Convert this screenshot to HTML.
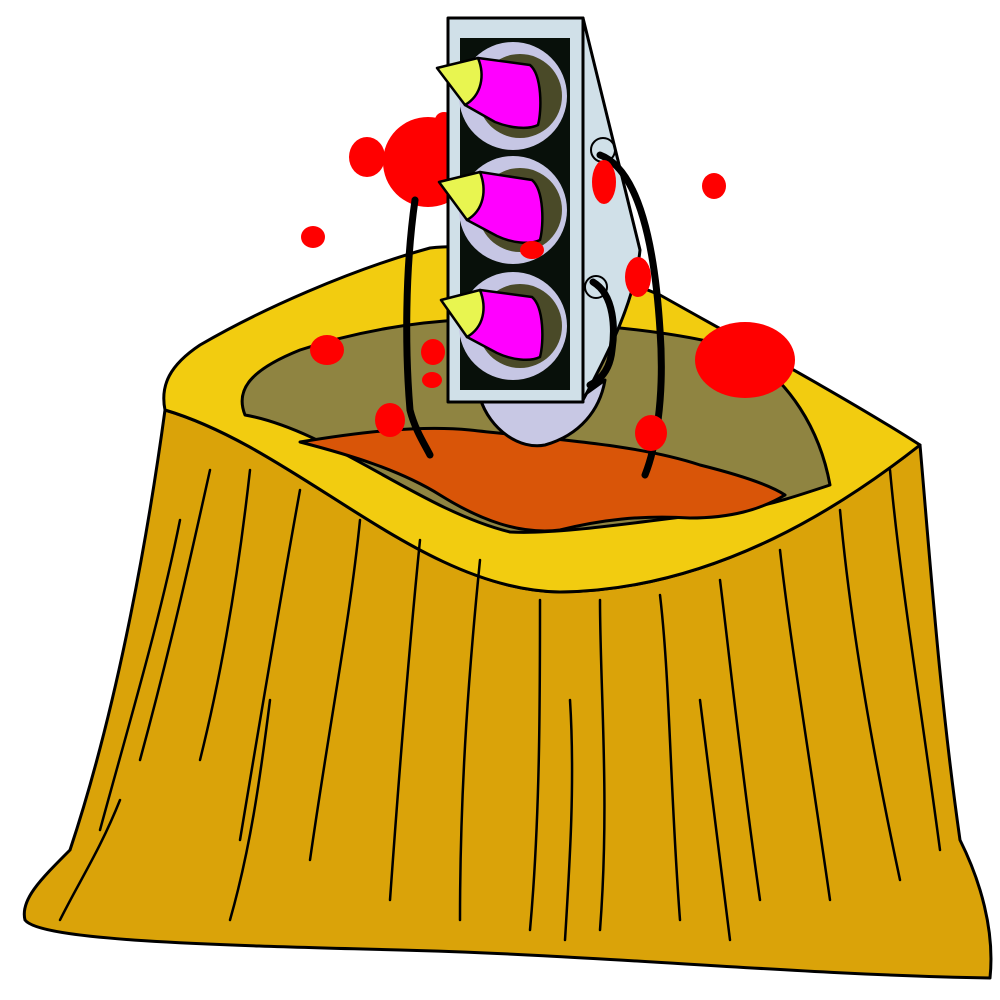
<!DOCTYPE html>
<html><head><meta charset="utf-8"><style>html,body{margin:0;padding:0;background:#fff}svg{display:block}</style></head>
<body>
<svg width="1000" height="1000" viewBox="0 0 1000 1000" xmlns="http://www.w3.org/2000/svg" stroke-linejoin="round">
<g stroke="#000" stroke-width="3">
<path fill="#DAA309" d="M165,410 C150,520 120,700 70,850 C40,880 20,900 25,920 C40,940 200,945 400,950 C600,955 800,975 990,978 C995,930 980,880 960,840 C940,700 930,560 920,445 C850,500 720,590 560,592 C420,590 300,450 165,410 Z"/>
<path fill="#F2CC10" d="M165,410 C160,385 170,365 200,345 C260,310 350,270 430,248 C500,240 600,270 660,295 C740,340 850,400 920,445 C850,500 720,590 560,592 C420,590 300,450 165,410 Z"/>
<path fill="#8F8441" d="M245,415 C235,390 250,370 300,350 C360,330 420,322 460,320 C560,320 680,330 740,350 C790,380 820,430 830,485 C800,495 770,505 740,510 C650,520 560,535 510,532 C420,510 330,430 245,415 Z"/>
<path fill="#D95508" d="M300,442 C360,432 420,425 470,430 C560,440 640,445 700,465 C740,475 770,485 785,495 C760,510 730,518 690,518 C640,515 600,520 560,530 C520,535 480,520 440,495 C400,470 350,455 300,442 Z"/>
</g>
<g stroke="#000" stroke-width="2.5" fill="none" stroke-linecap="round">
<path d="M210,470 C190,560 170,650 140,760"/><path d="M250,470 C240,560 225,660 200,760"/><path d="M300,490 C280,600 260,720 240,840"/><path d="M360,520 C350,620 330,720 310,860"/><path d="M420,540 C410,640 400,760 390,900"/><path d="M480,560 C470,660 460,780 460,920"/><path d="M540,600 C540,700 540,820 530,930"/><path d="M600,600 C600,690 610,800 600,930"/><path d="M660,595 C670,680 670,790 680,920"/><path d="M720,580 C730,660 740,760 760,900"/><path d="M780,550 C790,640 810,760 830,900"/><path d="M840,510 C850,620 870,740 900,880"/><path d="M890,470 C900,580 920,700 940,850"/><path d="M180,520 C160,620 130,720 100,830"/><path d="M120,800 C100,850 80,880 60,920"/><path d="M270,700 C260,780 250,850 230,920"/><path d="M700,700 C710,780 720,860 730,940"/><path d="M570,700 C575,780 570,860 565,940"/>
</g>
<g fill="#FF0000">
<ellipse cx="428" cy="162" rx="45" ry="45"/><ellipse cx="444" cy="120" rx="9" ry="8"/>
</g>
<g stroke="#000" stroke-width="3">
<path fill="#C8C8E4" d="M480,398 C490,430 520,450 545,445 C580,435 600,410 605,380 L580,398 Z"/>
<path fill="#D0E0E8" d="M583,18 L640,250 C635,300 610,350 583,400 Z"/>
<rect x="448" y="18" width="135" height="384" fill="#D0E0E8"/>
<rect x="460" y="38" width="110" height="352" fill="#08100A" stroke="none"/>
<g stroke="none">
<circle cx="513" cy="96" r="54" fill="#C6C6E4"/><circle cx="520" cy="96" r="42" fill="#4A4A28"/>
<circle cx="513" cy="210" r="54" fill="#C6C6E4"/><circle cx="520" cy="210" r="42" fill="#4A4A28"/>
<circle cx="513" cy="326" r="54" fill="#C6C6E4"/><circle cx="520" cy="326" r="42" fill="#4A4A28"/>
</g>
<g stroke-width="2.5">
<path fill="#FF00FF" d="M478,58 L530,65 C542,75 542,110 538,125 C528,130 510,128 495,122 L465,105 Z"/>
<path fill="#E8F550" d="M437,68 L478,58 C485,75 482,95 465,105 Z"/>
<path fill="#FF00FF" d="M480,172 L532,180 C544,190 544,225 540,240 C530,245 512,243 497,236 L467,220 Z"/>
<path fill="#E8F550" d="M439,182 L480,172 C487,190 484,210 467,220 Z"/>
<path fill="#FF00FF" d="M480,290 L532,297 C544,307 544,342 540,357 C530,362 512,360 497,353 L467,337 Z"/>
<path fill="#E8F550" d="M441,300 L480,290 C487,308 484,327 467,337 Z"/>
</g>
<circle cx="603" cy="150" r="12" fill="none" stroke-width="2"/><circle cx="596" cy="287" r="11" fill="none" stroke-width="2"/>
</g>
<g stroke="#000" stroke-width="7" fill="none" stroke-linecap="round">
<path d="M600,155 C640,170 655,250 660,330 C665,400 655,450 645,475"/>
<path d="M593,282 C615,295 615,330 612,350 C610,370 600,380 590,385"/>
<path d="M415,200 C405,270 405,350 410,410 C415,430 425,445 430,455"/>
</g>
<g fill="#FF0000">
<ellipse cx="367" cy="157" rx="18" ry="20"/>
<ellipse cx="313" cy="237" rx="12" ry="11"/><ellipse cx="714" cy="186" rx="12" ry="13"/><ellipse cx="604" cy="182" rx="12" ry="22"/>
<ellipse cx="532" cy="250" rx="12" ry="9"/><ellipse cx="638" cy="277" rx="13" ry="20"/><ellipse cx="745" cy="360" rx="50" ry="38"/>
<ellipse cx="327" cy="350" rx="17" ry="15"/><ellipse cx="433" cy="352" rx="12" ry="13"/><ellipse cx="432" cy="380" rx="10" ry="8"/>
<ellipse cx="390" cy="420" rx="15" ry="17"/><ellipse cx="651" cy="433" rx="16" ry="18"/>
</g>
</svg>
</body></html>
